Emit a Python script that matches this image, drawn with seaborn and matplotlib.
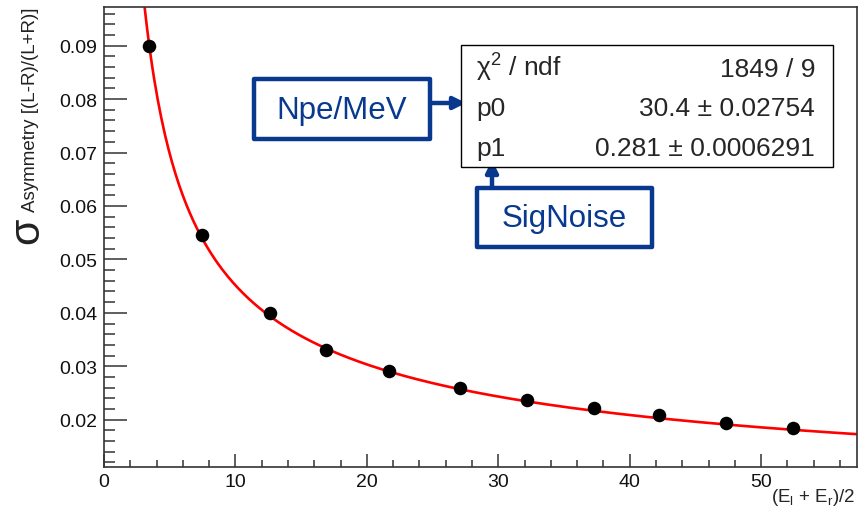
import numpy as np
import pandas as pd
import matplotlib
matplotlib.use("Agg")
import matplotlib.pyplot as plt
from matplotlib.patches import Rectangle
from matplotlib.ticker import MultipleLocator
import seaborn as sns

# ---- data ----
energy = [3.42, 7.46, 12.63, 16.9, 21.7, 27.1, 32.2, 37.3, 42.2, 47.3, 52.4]
sigma_asym = [0.0900, 0.0545, 0.0399, 0.0330, 0.0291, 0.0259, 0.0237, 0.0221, 0.0208, 0.0193, 0.0185]

# fit parameters shown in the stats box
p0 = 30.4
p0_err = 0.02754
p1 = 0.281
p1_err = 0.0006291
chi2 = 1849
ndf = 9
fit_range = [3.0, 57.3]

x_ticks = [0, 10, 20, 30, 40, 50]
y_ticks = [0.02, 0.03, 0.04, 0.05, 0.06, 0.07, 0.08, 0.09]

W, H = 860, 510
sns.set_style("ticks")
plt.rcParams['font.family'] = ['Liberation Sans', 'DejaVu Sans']
plt.rcParams['mathtext.fontset'] = 'custom'
plt.rcParams['mathtext.rm'] = 'Liberation Sans'
plt.rcParams['mathtext.it'] = 'Liberation Sans:italic'
plt.rcParams['mathtext.bf'] = 'Liberation Sans:bold'

fig = plt.figure(figsize=(W / 100, H / 100), dpi=100)
fig.patch.set_facecolor("white")
ax = fig.add_axes([104 / W, 1 - 468 / H, (857 - 104) / W, (468 - 8) / H])
ax.set_facecolor("white")

# fit curve: sigma = sqrt((1/(p0 E) + (p1/E)^2)/2)
e_fit = np.linspace(fit_range[0], fit_range[1], 400)
s_fit = np.sqrt((1.0 / (p0 * e_fit) + (p1 / e_fit) ** 2) / 2.0)
fit_df = pd.DataFrame({"E": e_fit, "sigma": s_fit})
pts_df = pd.DataFrame({"E": energy, "sigma": sigma_asym})

sns.lineplot(data=fit_df, x="E", y="sigma", ax=ax, color="#ff0000", lw=1.9, zorder=2)
sns.scatterplot(data=pts_df, x="E", y="sigma", ax=ax, color="black", s=95,
                edgecolor="black", linewidth=0, zorder=3)

ax.set_xlim(0, 57.3)
ax.set_ylim(0.01115, 0.09724)
ax.set_xticks(x_ticks)
ax.set_yticks(y_ticks)
ax.set_xticklabels([str(t) for t in x_ticks])
ax.set_yticklabels([f"{t:.2f}" for t in y_ticks])
ax.xaxis.set_minor_locator(MultipleLocator(2))
ax.yaxis.set_minor_locator(MultipleLocator(0.002))
ax.set_xlabel("")
ax.set_ylabel("")

for s in ax.spines.values():
    s.set_visible(True)
    s.set_linewidth(1.2)
    s.set_color("#333333")

ax.tick_params(axis='x', which='major', direction='in', length=9.5, width=1.1,
               labelsize=14, pad=4, top=False, color="#333333", labelcolor="#111111")
ax.tick_params(axis='x', which='minor', direction='in', length=5, width=1.1,
               top=False, color="#333333")
ax.tick_params(axis='y', which='major', direction='in', length=16.5, width=1.1,
               labelsize=14, pad=5, right=False, color="#333333", labelcolor="#111111")
ax.tick_params(axis='y', which='minor', direction='in', length=8, width=1.1,
               right=False, color="#333333")

# axis titles (ROOT style)
fig.text(855 / W, 1 - 502 / H, r"(E$_{\mathrm{l}}$ + E$_{\mathrm{r}}$)/2",
         ha='right', va='baseline', fontsize=13.5)
fig.text(35 / W, 1 - 8 / H, "Asymmetry [(L-R)/(L+R)]", rotation=90,
         rotation_mode='anchor', ha='right', va='baseline', fontsize=13.5, color="#222222")
fig.text(38 / W, 1 - 217 / H, "σ", rotation=90, rotation_mode='anchor',
         ha='right', va='baseline', fontsize=31, color="#222222")


def fx(px):
    return px / W


def fy(py):
    return 1 - py / H


# stats box
fig.patches.append(Rectangle((fx(461), fy(168)), fx(833) - fx(461), fy(46) - fy(168),
                             transform=fig.transFigure, facecolor="white",
                             edgecolor="black", lw=1.0, zorder=5))
rows = [("χ$^{2}$ / ndf", f"{chi2} / {ndf}", 77),
        ("p0", f"{p0} ± {p0_err}", 116),
        ("p1", f"{p1} ± {p1_err}", 156)]
for lab, val, yb in rows:
    fig.text(fx(476), fy(yb), lab, ha='left', va='baseline', fontsize=19, zorder=6)
    fig.text(fx(815), fy(yb), val, ha='right', va='baseline', fontsize=19, zorder=6)

blue = "#08398F"
# Npe/MeV box
fig.patches.append(Rectangle((fx(254), fy(140)), fx(430) - fx(254), fy(80) - fy(140),
                             transform=fig.transFigure, facecolor="white",
                             edgecolor=blue, lw=3.2, joinstyle='round', zorder=5))
fig.text(fx(342), fy(111), "Npe/MeV", ha='center', va='center', fontsize=22.5,
         color=blue, zorder=6)
# SigNoise box
fig.patches.append(Rectangle((fx(477), fy(248)), fx(652) - fx(477), fy(189) - fy(248),
                             transform=fig.transFigure, facecolor="white",
                             edgecolor=blue, lw=3.2, joinstyle='round', zorder=5))
fig.text(fx(564), fy(219), "SigNoise", ha='center', va='center', fontsize=22.5,
         color=blue, zorder=6)

# arrows
ax.annotate("", xy=(466, H - 104), xytext=(431, H - 104), xycoords='figure pixels',
            textcoords='figure pixels',
            arrowprops=dict(arrowstyle='-|>', lw=3.2, color=blue, mutation_scale=18,
                            shrinkA=0, shrinkB=0), zorder=7, annotation_clip=False)
ax.annotate("", xy=(492, H - 161), xytext=(492, H - 187), xycoords='figure pixels',
            textcoords='figure pixels',
            arrowprops=dict(arrowstyle='-|>', lw=3.2, color=blue, mutation_scale=18,
                            shrinkA=0, shrinkB=0), zorder=7, annotation_clip=False)

fig.savefig("out.png", dpi=100, facecolor="white")
